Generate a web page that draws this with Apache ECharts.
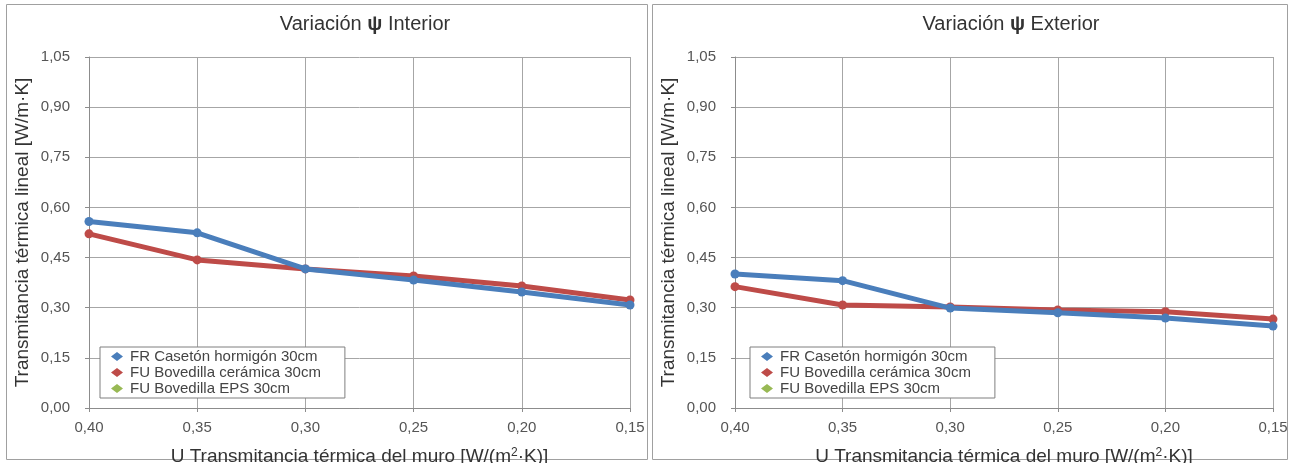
<!DOCTYPE html>
<html><head><meta charset="utf-8">
<script src="https://cdn.jsdelivr.net/npm/echarts@6/dist/echarts.min.js"></script>
<style>html,body{margin:0;padding:0;background:#fff}#c{width:1296px;height:463px}</style>
</head><body><div id="c"></div>
<script>
const categories = ['0,40','0,35','0,30','0,25','0,20','0,15'];
const seriesNames = ['FR Casetón hormigón 30cm','FU Bovedilla cerámica 30cm','FU Bovedilla EPS 30cm'];
const interiorFR = [0.558, 0.524, 0.416, 0.383, 0.347, 0.308];
const interiorFUcer = [0.521, 0.443, 0.416, 0.395, 0.365, 0.323];
const interiorFUeps = [];
const exteriorFR = [0.401, 0.381, 0.299, 0.285, 0.269, 0.245];
const exteriorFUcer = [0.363, 0.308, 0.302, 0.293, 0.288, 0.266];
const exteriorFUeps = [];
const titles = ['Variación {b|ψ} Interior','Variación {b|ψ} Exterior'];

const colors = ['#4A7EBB','#BE4B48','#98B954'];
const font = 'Liberation Sans, Arial, sans-serif';
const chart = echarts.init(document.getElementById('c'));
const grids = [
  {left:89,right:666,top:57,bottom:55,outerBoundsMode:'none',containLabel:false},
  {left:735,right:23,top:57,bottom:55,outerBoundsMode:'none',containLabel:false}
];
const centers = [360,1006];
const legendLeft = [100,750];
const data = [[interiorFR,interiorFUcer,interiorFUeps],[exteriorFR,exteriorFUcer,exteriorFUeps]];

const option = {
  animation:false,
  color: colors,
  textStyle:{fontFamily:font},
  graphic:[
    {type:'rect',shape:{x:6.5,y:4.5,width:641,height:455},style:{fill:'none',stroke:'#a0a0a0',lineWidth:1}},
    {type:'rect',shape:{x:652.5,y:4.5,width:635,height:455},style:{fill:'none',stroke:'#a0a0a0',lineWidth:1}}
  ],
  title: titles.map((t,i)=>({
    text:t, left:centers[i], top:9, textAlign:'center',
    textStyle:{fontFamily:font,fontSize:20,fontWeight:'normal',color:'#333',
      rich:{b:{fontFamily:font,fontSize:20,fontWeight:'bold',color:'#333'}}}
  })),
  legend: [0,1].map(i=>({
    data: seriesNames.map(n=>({name:n, icon:'diamond'})),
    orient:'vertical', left: legendLeft[i], top:347,
    itemWidth:12, itemHeight:9, itemGap:1,
    padding:[2,24,2,11],
    borderColor:'#7f7f7f', borderWidth:1, backgroundColor:'#fff',
    textStyle:{fontFamily:font,fontSize:15,color:'#444',padding:[0,0,0,2]}
  })),
  grid: grids,
  xAxis: [0,1].map(i=>({
    type:'category', gridIndex:i, data:categories, boundaryGap:false,
    axisLine:{lineStyle:{color:'#8c8c8c'}}, axisTick:{show:true,alignWithLabel:true,lineStyle:{color:'#8c8c8c'},length:4},
    axisLabel:{color:'#555',fontSize:15,margin:12,fontFamily:font},
    splitLine:{show:true,lineStyle:{color:'#a6a6a6'}},
    name:'{a|U Transmitancia térmica del muro [W/(m}{s|2}{a|·K)]}',
    nameLocation:'middle', nameGap:39,
    nameTextStyle:{rich:{a:{fontFamily:font,fontSize:19,color:'#333'},s:{fontFamily:font,fontSize:12,color:'#333',verticalAlign:'top',padding:[0,0,8,0]}}}
  })),
  yAxis: [0,1].map(i=>({
    type:'value', gridIndex:i, min:0, max:1.05, interval:0.15,
    axisLine:{show:true,lineStyle:{color:'#8c8c8c'}}, axisTick:{show:true,lineStyle:{color:'#8c8c8c'},length:4},
    axisLabel:{color:'#555',fontSize:15,margin:19,fontFamily:font,formatter:v=>v.toFixed(2).replace('.',',')},
    splitLine:{show:true,lineStyle:{color:'#a6a6a6'}},
    name:'Transmitancia térmica lineal [W/m·K]', nameLocation:'middle', nameGap:57,
    nameTextStyle:{fontFamily:font,fontSize:19,color:'#333'}
  })),
  series: []
};
for (let g=0; g<2; g++) {
  for (let s=0; s<3; s++) {
    option.series.push({
      type:'line', name:seriesNames[s], xAxisIndex:g, yAxisIndex:g,
      data:data[g][s], symbol:'circle', symbolSize:9, showSymbol:true,
      lineStyle:{width:5,color:colors[s]}, itemStyle:{color:colors[s]},
      z: s===0?3:2
    });
  }
}
chart.setOption(option);
</script></body></html>
